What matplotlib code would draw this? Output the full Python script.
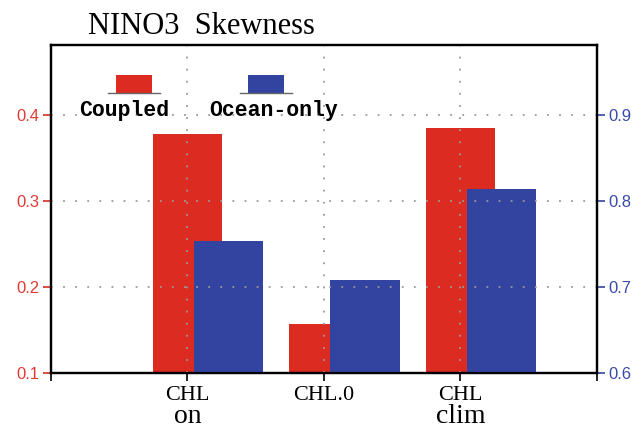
import matplotlib
matplotlib.use("Agg")
import matplotlib.pyplot as plt
from matplotlib.patches import Rectangle
from matplotlib.lines import Line2D
import matplotlib.transforms as mtransforms

# ---- data ----
categories_line1 = ["CHL", "CHL.0", "CHL"]
categories_line2 = ["on", "", "clim"]
coupled = [0.378, 0.157, 0.3845]        # left axis
ocean_only = [0.753, 0.708, 0.8135]     # right axis
left_ticks = [0.1, 0.2, 0.3, 0.4]
right_ticks = [0.6, 0.7, 0.8, 0.9]
series_names = ["Coupled", "Ocean-only"]

RED = "#dc2b20"
BLUE = "#3343a0"
RED_TXT = "#e23a32"
BLUE_TXT = "#3a4aaa"
GRID = "#9a9a9a"

fig = plt.figure(figsize=(6.38, 4.28), dpi=100)
ax = fig.add_axes([0.0799, 0.1285, 0.8558, 0.7664])
ax2 = ax.twinx()

x = [i + 1 for i in range(len(categories_line1))]
w = 0.51
ax.bar(x, coupled, width=w, color=RED, bottom=0, zorder=1)
ax2.bar([xi + 0.30 for xi in x], ocean_only, width=w, color=BLUE, zorder=1)

ax.set_xlim(0, 4)
ax.set_ylim(0.1, 0.481)
ax2.set_ylim(0.6, 0.981)

xt = [0] + x + [4]
ax.set_xticks(xt)
ax.set_xticklabels([""] + categories_line1 + [""], family="Liberation Serif", fontsize=16)

ax.set_yticks(left_ticks)
ax.set_yticklabels([f"{v:.1f}" for v in left_ticks])
ax2.set_yticks(right_ticks)
ax2.set_yticklabels([f"{v:.1f}" for v in right_ticks])

ax.tick_params(axis="y", colors=RED, labelcolor=RED_TXT, length=6, width=1.2,
               labelsize=12, pad=2)
ax2.tick_params(axis="y", colors=BLUE, labelcolor=BLUE_TXT, length=6, width=1.2,
                labelsize=12, pad=2)
for lab in ax.get_yticklabels() + ax2.get_yticklabels():
    lab.set_family("Liberation Sans")
ax.tick_params(axis="x", length=6, width=1.2, color="black", pad=3)

# second line of category labels
trans = mtransforms.blended_transform_factory(ax.transData, ax.transAxes)
for xi, lab in zip(x, categories_line2):
    if lab:
        ax.text(xi, -0.152, lab, transform=trans, ha="center", va="baseline",
                family="Liberation Serif", fontsize=20)

# grid on top axes, over bars
ax2.xaxis.set_visible(True)
ax2.tick_params(axis="x", length=0, labelbottom=False, labeltop=False,
                bottom=False, top=False)
ax2.set_axisbelow(False)
ax2.grid(True, axis="both", color=GRID, linestyle=(0, (1, 5.7)), linewidth=1.3, zorder=2.5)
ax2.tick_params(axis="both", grid_color=GRID)

for a in (ax, ax2):
    for s in a.spines.values():
        s.set_linewidth(1.6)
        s.set_color("black")
        s.set_zorder(3)

# legend
legend_items = [(0.119, 0.104, RED, 0.134), (0.361, 0.346, BLUE, 0.407)]
for (px, ux, col, tx), name in zip(legend_items, series_names):
    ax2.add_patch(Rectangle((px, 0.854), 0.066, 0.055, transform=ax2.transAxes,
                            facecolor=col, edgecolor="none", zorder=4))
    ax2.add_line(Line2D([ux, ux + 0.095], [0.854, 0.854], transform=ax2.transAxes,
                        color="#666666", linewidth=1.0, zorder=4))
    ax2.text(tx, 0.799, name, transform=ax2.transAxes, ha="center", va="center",
             family="Liberation Mono", fontweight="bold", fontsize=15.5, zorder=5)

fig.text(88 / 638, 1 - 34 / 428, "NINO3  Skewness", family="Liberation Serif",
         fontsize=22, ha="left", va="baseline")

fig.savefig("out.png", dpi=100)
